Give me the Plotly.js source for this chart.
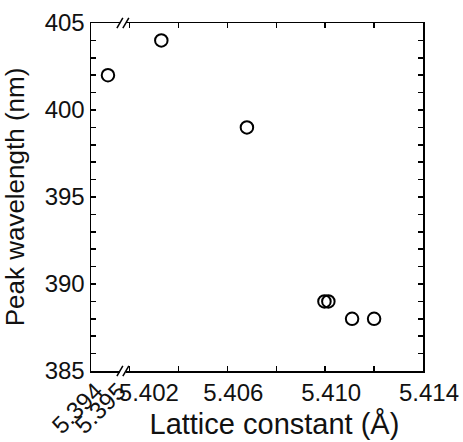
<!DOCTYPE html>
<html>
<head>
<meta charset="utf-8">
<script src="https://cdn.plot.ly/plotly-3.0.1.min.js"></script>
<style>html,body{margin:0;padding:0;background:#fff;}#chart{width:463px;height:442px;}</style>
</head>
<body>
<div id="chart"></div>
<script>
// Data
const latticeLeft = [5.3947];
const wavelengthLeft = [402];
const latticeRight = [5.4033, 5.4068, 5.40997, 5.41013, 5.4111, 5.4120];
const wavelengthRight = [404, 399, 389, 389, 388, 388];

const leftTickVals = [5.394, 5.395];
const leftTickText = ['5.394', '5.395'];
const rightTickVals = [5.402, 5.406, 5.410, 5.414];
const rightTickText = ['5.402', '5.406', '5.410', '5.414'];
const yTickVals = [385, 390, 395, 400, 405];
const yTickText = ['385', '390', '395', '400', '405'];

const FONT = 'Arial, "Liberation Sans", sans-serif';
const marker = {symbol: 'circle-open', size: 12.5, color: '#000', line: {width: 2, color: '#000'}};

const traces = [
  {x: latticeLeft, y: wavelengthLeft, xaxis: 'x', yaxis: 'y', mode: 'markers', type: 'scatter', marker: marker, cliponaxis: false},
  {x: latticeRight, y: wavelengthRight, xaxis: 'x2', yaxis: 'y2', mode: 'markers', type: 'scatter', marker: marker, cliponaxis: false}
];

// pad first label visually as in reference
const NB = '\u00a0';
const rightTickTextShown = rightTickText.map((t, i) => i === 0 ? NB + NB + NB + NB + t : t);

const dBreakL = 0.087, dBreakR = 0.105;
const common = {showgrid: false, zeroline: false, showline: true, linecolor: '#000', linewidth: 1.5,
  tickcolor: '#000', tickwidth: 1.5, ticklen: 5, tickfont: {family: FONT, size: 24, color: '#111'}};

const layout = {
  width: 463, height: 442,
  margin: {l: 91, r: 40, t: 23, b: 71, pad: 0},
  paper_bgcolor: '#fff', plot_bgcolor: '#fff',
  showlegend: false,
  font: {family: FONT, color: '#111'},
  xaxis: Object.assign({}, common, {
    domain: [0, dBreakL], range: [5.39396, 5.39522], anchor: 'y',
    tickmode: 'array', tickvals: leftTickVals, ticktext: leftTickText,
    ticks: '', tickangle: -45, ticklabelshift: 4, ticklabelstandoff: -5, ticklabeloverflow: 'allow', mirror: true, automargin: false
  }),
  xaxis2: Object.assign({}, common, {
    domain: [dBreakR, 1], range: [5.40185, 5.414], anchor: 'y2',
    tickmode: 'array', tickvals: rightTickVals, ticktext: rightTickTextShown,
    ticks: 'inside', mirror: 'ticks', ticklabelshift: 6, automargin: false,
    minor: {tickmode: 'array', tickvals: [5.402, 5.404, 5.406, 5.408, 5.410, 5.412, 5.414], ticks: 'inside', ticklen: 5, tickwidth: 1.5, tickcolor: '#000', showgrid: false},
    title: {text: 'Lattice constant (Å)' + NB + NB, font: {family: FONT, size: 29, color: '#111'}, standoff: 8}
  }),
  yaxis: Object.assign({}, common, {
    domain: [0, 1], range: [385, 405], anchor: 'x',
    tickmode: 'array', tickvals: yTickVals, ticktext: yTickText,
    ticks: 'inside', mirror: false, automargin: false,
    minor: {dtick: 1, tick0: 385, ticks: 'inside', ticklen: 5, tickwidth: 1.5, tickcolor: '#000', showgrid: false},
    title: {text: 'Peak wavelength (nm)', font: {family: FONT, size: 26, color: '#111'}, standoff: 12}
  }),
  yaxis2: Object.assign({}, common, {
    domain: [0, 1], range: [385, 405], anchor: 'x2', matches: 'y', side: 'right',
    tickmode: 'array', tickvals: yTickVals, showticklabels: false,
    ticks: 'inside', mirror: false, automargin: false,
    minor: {dtick: 1, tick0: 385, ticks: 'inside', ticklen: 5, tickwidth: 1.5, tickcolor: '#000', showgrid: false}
  }),
  shapes: []
};

// break marks "//" on bottom and top axes
[0, 1].forEach(function (yy) {
  [dBreakL, dBreakR].forEach(function (xx) {
    layout.shapes.push({type: 'line', xref: 'paper', yref: 'paper',
      x0: xx - 0.009, x1: xx + 0.009, y0: yy - 0.015, y1: yy + 0.015,
      line: {color: '#000', width: 1.5}});
  });
});

Plotly.newPlot('chart', traces, layout, {displayModeBar: false, staticPlot: true});
</script>
</body>
</html>
